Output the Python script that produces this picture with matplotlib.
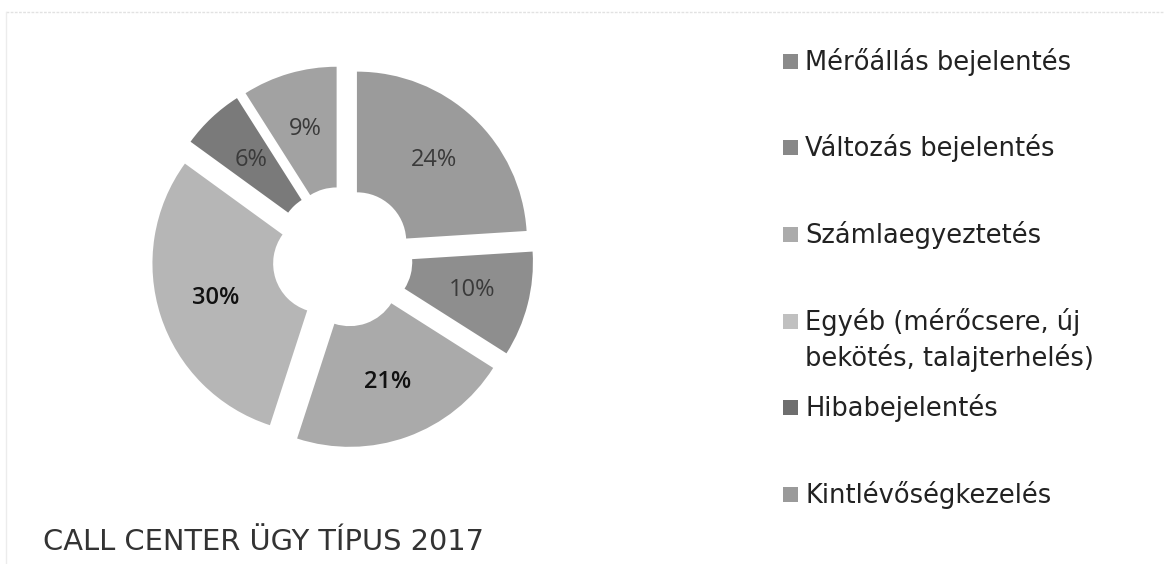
import matplotlib
matplotlib.use("Agg")
import matplotlib.pyplot as plt
from matplotlib.patches import Rectangle
from matplotlib.lines import Line2D

# data, clockwise from 12 o'clock
labels = ["Mérőállás bejelentés", "Változás bejelentés", "Számlaegyeztetés",
          "Egyéb (mérőcsere, új\nbekötés, talajterhelés)", "Hibabejelentés",
          "Kintlévőségkezelés"]
shares = [24, 10, 21, 30, 6, 9]
slice_colors = ["#9b9b9b", "#8e8e8e", "#aaaaaa", "#b6b6b6", "#7a7a7a", "#a2a2a2"]
legend_colors = ["#8a8a8a", "#888888", "#ababab", "#c0c0c0", "#6e6e6e", "#9a9a9a"]
pct_colors = ["#3a3a3a", "#3a3a3a", "#111111", "#111111", "#3a3a3a", "#3a3a3a"]
legend_y = [62, 148, 235, 340, 408, 495]  # pixel rows of legend entries
title = "CALL CENTER ÜGY TÍPUS 2017"

W, H = 1164, 564
fig = plt.figure(figsize=(W / 100, H / 100), dpi=100)
fig.patch.set_facecolor("white")

# pie axes: centre at (342.5, 257) px, radius 170 px
cx, cy, R = 342.5, 257, 170
half = 1.3 * R
ax = fig.add_axes([(cx - half) / W, (H - cy - half) / H, 2 * half / W, 2 * half / H])
ax.set_xlim(-1.3, 1.3); ax.set_ylim(-1.3, 1.3)
ax.set_aspect("equal"); ax.axis("off")

wedges, _, autotexts = ax.pie(
    shares, colors=slice_colors, startangle=90, counterclock=False,
    explode=[0.124] * len(shares), radius=1.0,
    wedgeprops=dict(width=0.71, linewidth=0),
    autopct="%d%%", pctdistance=0.66,
    textprops=dict(fontsize=17, family="Open Sans"))
for t, c in zip(autotexts, pct_colors):
    t.set_color(c)
autotexts[2].set_fontweight("semibold")
autotexts[3].set_fontweight("semibold")
ax.set_xlim(-1.3, 1.3); ax.set_ylim(-1.3, 1.3)

# legend drawn by hand to get the spacing of the original
for lab, col, y in zip(labels, legend_colors, legend_y):
    fy = 1 - y / H
    nlines = lab.count("\n") + 1
    sq_y = fy + (nlines - 1) * 18 / H
    fig.patches.append(Rectangle((783 / W, sq_y - 7 / H), 15 / W, 15 / H,
                                 transform=fig.transFigure, color=col, lw=0))
    fig.text(805 / W, fy, lab, ha="left", va="center", fontsize=18.5,
             color="#222222", linespacing=1.4, family="DejaVu Sans")

fig.text(43 / W, 1 - 542 / H, title, ha="left", va="center", fontsize=20.8,
         color="#333333", family="DejaVu Sans")

# faint scan border
fig.add_artist(Line2D([6 / W, 1], [1 - 12 / H] * 2, transform=fig.transFigure,
                      color="#e2e2e2", lw=1, ls=(0, (2, 1))))
fig.add_artist(Line2D([6 / W] * 2, [0, 1 - 12 / H], transform=fig.transFigure,
                      color="#ececec", lw=1))

fig.savefig("out.png", dpi=100)
